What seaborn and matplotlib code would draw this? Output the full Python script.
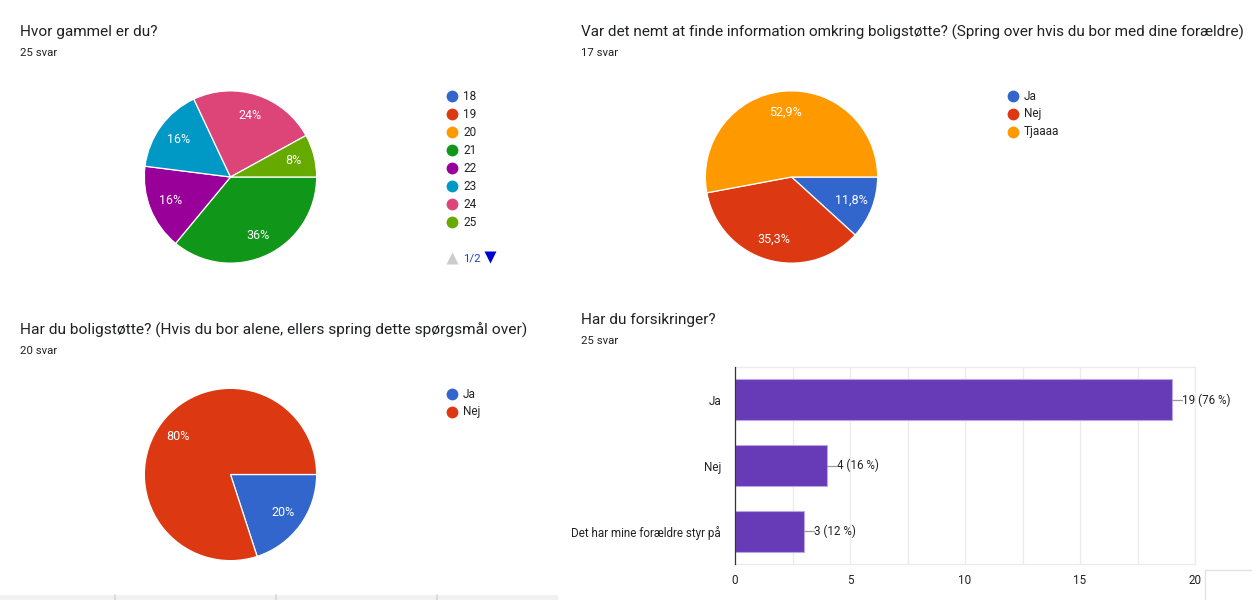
import matplotlib
matplotlib.use("Agg")
import matplotlib.pyplot as plt
import seaborn as sns
import pandas as pd
from matplotlib.patches import Rectangle

sns.set_theme(style="white")
plt.rcParams['font.family'] = ['Roboto', 'DejaVu Sans']

# ---------------- data ----------------
q1_title = "Hvor gammel er du?"
q1_count = "25 svar"
age_labels = ["18", "19", "20", "21", "22", "23", "24", "25"]
age_values = [0, 0, 0, 9, 4, 4, 6, 2]

q2_title = "Var det nemt at finde information omkring boligstøtte? (Spring over hvis du bor med dine forældre)"
q2_count = "17 svar"
info_labels = ["Ja", "Nej", "Tjaaaa"]
info_values = [2, 6, 9]

q3_title = "Har du boligstøtte? (Hvis du bor alene, ellers spring dette spørgsmål over)"
q3_count = "20 svar"
support_labels = ["Ja", "Nej"]
support_values = [4, 16]

q4_title = "Har du forsikringer?"
q4_count = "25 svar"
q4_respondents = 25
ins_labels = ["Ja", "Nej", "Det har mine forældre styr på"]
ins_values = [19, 4, 3]
ins_ticks = [0, 5, 10, 15, 20]

palette = ["#3366cc", "#dc3912", "#ff9900", "#109618",
           "#990099", "#0099c6", "#dd4477", "#66aa00"]
bar_color = "#673ab7"

W, H = 1252, 600
fig = plt.figure(figsize=(W / 100, H / 100), dpi=100)
fig.patch.set_facecolor("white")


def px_axes(x0, y0, x1, y1, **kw):
    return fig.add_axes([x0 / W, 1 - y1 / H, (x1 - x0) / W, (y1 - y0) / H], **kw)


# overlay for texts/legends in pixel coordinates
ov = px_axes(0, 0, W, H)
ov.set_xlim(0, W)
ov.set_ylim(H, 0)
ov.axis("off")
ov.patch.set_alpha(0)

TXT = "#202124"
SUB = "#202124"


def header(x, y, title, count, size=11.1):
    ov.text(x, y, title, fontsize=size, color=TXT, va="center", ha="left")
    ov.text(x, y + 21, count, fontsize=8.2, color=SUB, va="center", ha="left")


header(20, 32, q1_title, q1_count)
header(581, 32, q2_title, q2_count, size=10.95)
header(20, 330, q3_title, q3_count, size=11.15)
header(581, 320, q4_title, q4_count)


def legend(x, y, labels, colors, step=18):
    for i, lab in enumerate(labels):
        yy = y + i * step
        ov.plot(x, yy, "o", ms=8.5, color=colors[i], mec="none")
        ov.text(x + 11, yy, lab, fontsize=8.5, color="#222222", va="center", ha="left")


def pie(cx, cy, r, values, colors, fmt):
    ax = px_axes(cx - r, cy - r, cx + r, cy + r)
    vals = [v for v in values if v > 0]
    cols = [c for v, c in zip(values, colors) if v > 0]
    ax.pie(
        vals, colors=cols, startangle=0, counterclock=False, radius=1,
        autopct=lambda p: fmt(p), pctdistance=0.75,
        wedgeprops=dict(edgecolor="white", linewidth=0.9),
        textprops=dict(color="white", fontsize=9))
    ax.set_xlim(-1.01, 1.01)
    ax.set_ylim(-1.01, 1.01)
    ax.set_aspect("equal")
    ax.axis("off")
    return ax


pie(230.5, 177, 87, age_values, palette, lambda p: f"{p:.0f}%")
legend(452, 96, age_labels, palette)

# pagination
ov.plot(452, 258, "^", ms=8, color="#cccccc", mec="none")
ov.text(463, 258, "1/2", fontsize=8.2, color="#1a3fd0", va="center", ha="left")
ov.plot(490, 257, "v", ms=9, color="#0000cc", mec="none")

pie(791.5, 177, 87, info_values, palette,
    lambda p: f"{p:.1f}%".replace(".", ","))
legend(1013, 96, info_labels, palette)

pie(230.5, 474.5, 87, support_values, palette, lambda p: f"{p:.0f}%")
legend(452, 394, support_labels, palette)

# ---------------- bar chart ----------------
bx = px_axes(735, 367, 1195, 564)
df = pd.DataFrame({"label": ins_labels, "value": ins_values})
sns.barplot(data=df, x="value", y="label", ax=bx, color=bar_color,
            saturation=1, width=0.62, orient="h",
            edgecolor="#b9a6e0", linewidth=0.8, zorder=3)
bx.set_xlim(0, 20)
bx.set_ylim(2.5, -0.5)
bx.set_xticks(ins_ticks)
bx.set_xticks([2.5, 7.5, 12.5, 17.5], minor=True)
bx.grid(axis="x", which="both", color="#ebebeb", linewidth=0.9, zorder=0)
bx.set_axisbelow(True)
for s in ["top", "bottom", "right"]:
    bx.spines[s].set_color("#ebebeb")
    bx.spines[s].set_linewidth(0.9)
bx.spines["left"].set_color("#333333")
bx.spines["left"].set_linewidth(0.9)
bx.spines["left"].set_zorder(5)
bx.set_xlabel("")
bx.set_ylabel("")
bx.tick_params(axis="x", which="both", length=0, labelsize=8.4,
               labelcolor="#222222", pad=7)
bx.tick_params(axis="y", length=0, labelsize=8.4, labelcolor="#222222", pad=10)

unit = 20 / 460.0
for i, v in enumerate(ins_values):
    bx.plot([v, v + 10 * unit], [i, i], color="#999999", lw=0.9, zorder=4,
            clip_on=False)
    bx.text(v + 10 * unit, i, f"{v} ({round(100 * v / q4_respondents)} %)",
            fontsize=8.4, color="#222222", va="center", ha="left")

# ---------------- page decorations ----------------
ov.add_patch(Rectangle((0, 595), 558, 5, facecolor="#f1f1f1", edgecolor="none"))
for sx in [115, 276, 437]:
    ov.plot([sx, sx], [595, 600], color="#d6d6d6", lw=1.2)
ov.add_patch(Rectangle((1205, 570), 60, 40, facecolor="white",
                       edgecolor="#e3e3e3", lw=1))

fig.savefig("out.png", dpi=100, facecolor="white")
